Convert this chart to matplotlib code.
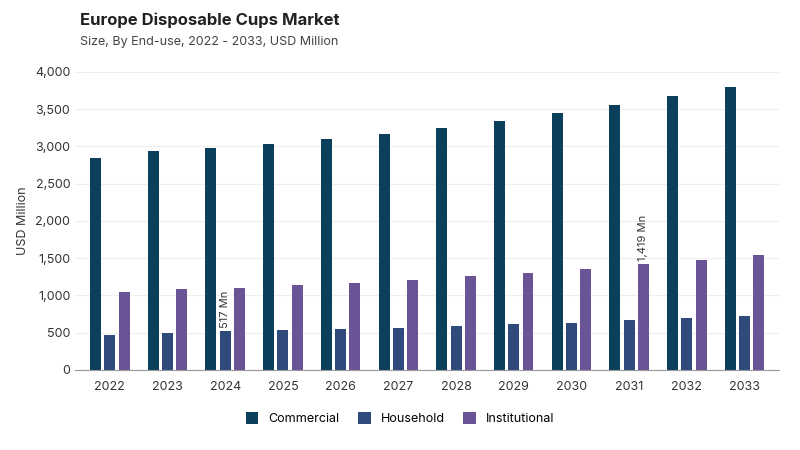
import matplotlib
matplotlib.use("Agg")
import matplotlib.pyplot as plt
import numpy as np

years = ["2022","2023","2024","2025","2026","2027","2028","2029","2030","2031","2032","2033"]
commercial = [2850, 2945, 2985, 3035, 3100, 3170, 3250, 3345, 3445, 3555, 3675, 3800]
household = [470, 495, 517, 530, 545, 565, 585, 610, 635, 665, 695, 725]
institutional = [1040, 1080, 1105, 1135, 1170, 1210, 1255, 1300, 1355, 1419, 1475, 1545]

plt.rcParams['font.family'] = ['Inter', 'DejaVu Sans']
fig = plt.figure(figsize=(8, 4.5), dpi=100)
ax = fig.add_axes([0.094, 0.178, 0.88, 0.662])
x = np.arange(len(years))
w = 0.19
c1, c2, c3 = "#0b3f5c", "#2f4b7c", "#6b5495"
ax.bar(x - 1.3*w, commercial, w, color=c1, label="Commercial")
ax.bar(x, household, w, color=c2, label="Household")
ax.bar(x + 1.3*w, institutional, w, color=c3, label="Institutional")
ax.text(x[2], household[2] + 40, "517 Mn", rotation=90, ha="center", va="bottom", fontsize=8, color="#333")
ax.text(x[9] + 1.3*w, institutional[9] + 40, "1,419 Mn", rotation=90, ha="center", va="bottom", fontsize=8, color="#333")
ax.set_ylim(0, 4000)
ax.set_xlim(-0.6, 11.6)
ax.set_yticks(range(0, 4001, 500))
ax.set_yticklabels([f"{v:,}" for v in range(0, 4001, 500)])
ax.set_xticks(x)
ax.set_xticklabels(years)
ax.tick_params(axis="both", length=0, labelsize=9, colors="#333")
ax.tick_params(axis="x", pad=8)
ax.grid(axis="y", color="#eeeeee", lw=0.8)
ax.set_axisbelow(True)
for s in ["top", "right", "left"]:
    ax.spines[s].set_visible(False)
ax.spines["bottom"].set_color("#999")
ax.set_ylabel("USD Million", fontsize=9, color="#333")
fig.text(0.1, 0.945, "Europe Disposable Cups Market", fontsize=12, fontweight="bold", color="#222")
fig.text(0.1, 0.9, "Size, By End-use, 2022 - 2033, USD Million", fontsize=9, color="#444")
fig.legend(loc="lower center", bbox_to_anchor=(0.5, 0.03), ncol=3, frameon=False, fontsize=9, handlelength=1, handleheight=1, columnspacing=1.5)
fig.savefig("out.png")
